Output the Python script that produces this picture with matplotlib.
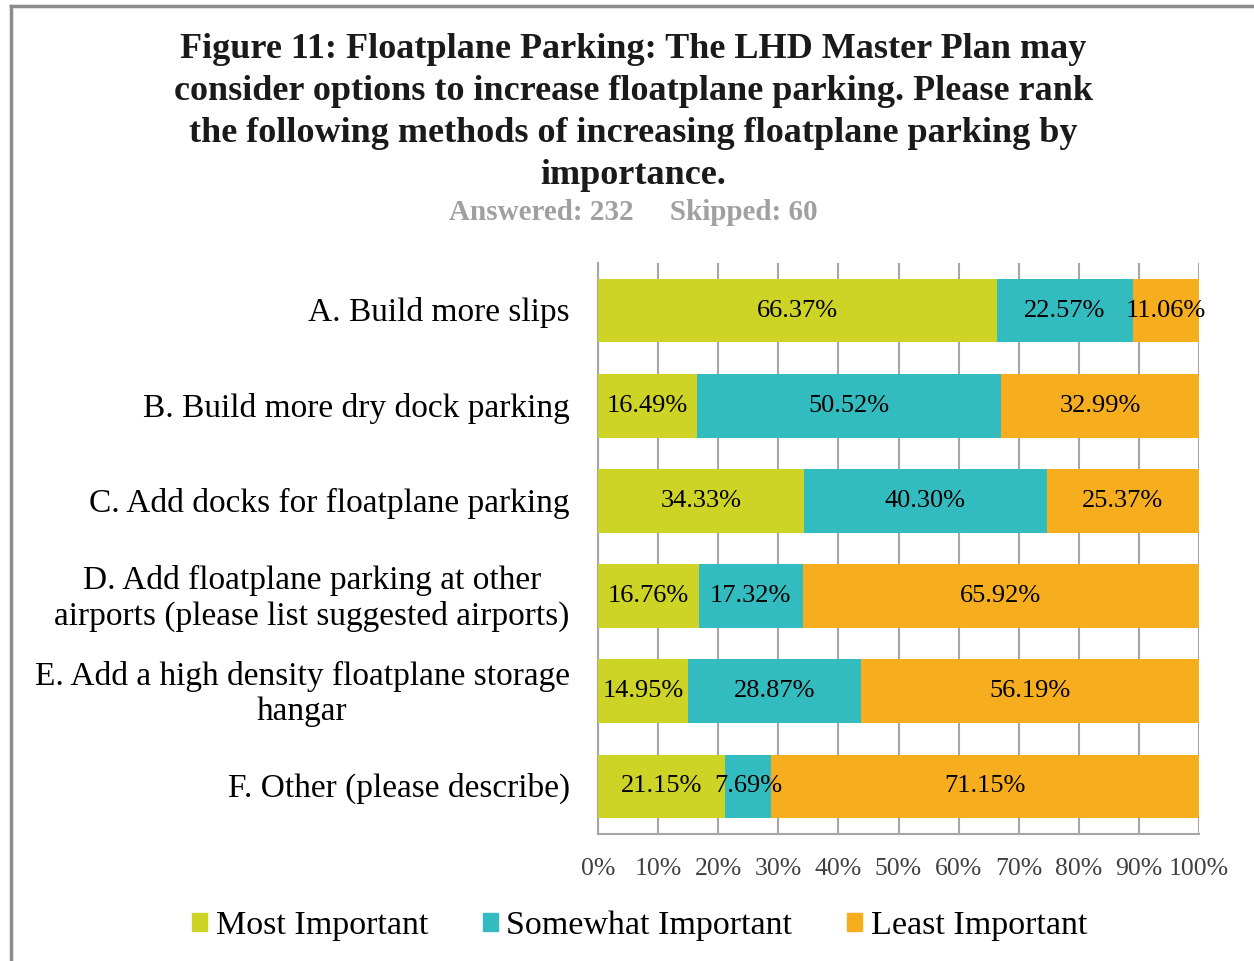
import matplotlib.pyplot as plt
from matplotlib.lines import Line2D
import numpy as np

plt.rcParams['font.family'] = ['Liberation Serif', 'DejaVu Serif']

categories = [
    "A. Build more slips",
    "B. Build more dry dock parking",
    "C. Add docks for floatplane parking",
    "D. Add floatplane parking at other\nairports (please list suggested airports)",
    "E. Add a high density floatplane storage\nhangar",
    "F. Other (please describe)",
]
most = [66.37, 16.49, 34.33, 16.76, 14.95, 21.15]
somewhat = [22.57, 50.52, 40.30, 17.32, 28.87, 7.69]
least = [11.06, 32.99, 25.37, 65.92, 56.19, 71.15]
series_names = ["Most Important", "Somewhat Important", "Least Important"]
colors = ["#CDD426", "#33BCBF", "#F6AE1F"]
xticks = np.arange(0, 101, 10)

fig = plt.figure(figsize=(12.54, 9.61), dpi=100)
ax = fig.add_axes([0.4769, 0.1322, 0.4793, 0.5941])

y = np.arange(len(categories))
left = np.zeros(len(categories))
for vals, name, col in zip([most, somewhat, least], series_names, colors):
    bars = ax.barh(y, vals, left=left, height=0.67, color=col, label=name, zorder=3)
    ax.bar_label(bars, labels=["%.2f%%" % v for v in vals], label_type='center',
                 fontsize=19, color='black', zorder=4)
    left += np.array(vals)

ax.set_xlim(0, 100)
ax.set_ylim(len(categories) - 0.5, -0.5)
ax.set_yticks(y)
ax.set_yticklabels([])
ax.tick_params(axis='y', length=0)
for yi, cat in zip(y, categories):
    ax.text(-0.047, yi + 0.025, cat, transform=ax.get_yaxis_transform(), ha='right',
            va='center', multialignment='center', fontsize=24, color='black',
            linespacing=1.2)
ax.set_xticks(xticks)
ax.set_xticklabels(["%d%%" % t for t in xticks], fontsize=18.5, color='#404040')
ax.tick_params(axis='x', length=0, pad=17)
ax.grid(axis='x', color='#A6A6A6', linewidth=1.5, zorder=0)
for side in ['top', 'right']:
    ax.spines[side].set_visible(False)
for side in ['left', 'bottom']:
    ax.spines[side].set_color('#A6A6A6')
    ax.spines[side].set_linewidth(1.5)

fig.text(0.505, 0.966,
         "Figure 11: Floatplane Parking: The LHD Master Plan may\n"
         "consider options to increase floatplane parking. Please rank\n"
         "the following methods of increasing floatplane parking by\n"
         "importance.",
         ha='center', va='top', fontsize=26, fontweight='bold',
         color='#1a1a1a', linespacing=1.36)
fig.text(0.505, 0.779, "Answered: 232     Skipped: 60", ha='center', va='center',
         fontsize=21, fontweight='bold', color='#A0A0A0')

handles = [plt.Rectangle((0, 0), 1, 1, color=c) for c in colors]
fig.legend(handles, series_names, loc='center', bbox_to_anchor=(0.51, 0.0365),
           ncol=3, frameon=False, fontsize=24.5, handlelength=0.45, handleheight=0.45,
           handletextpad=0.25, columnspacing=1.6)

# outer border (left and top edges)
fig.add_artist(Line2D([0.0088, 0.0088], [0, 0.9938], color='#8C8C8C', lw=2.5,
                      transform=fig.transFigure))
fig.add_artist(Line2D([0.0088, 1], [0.9938, 0.9938], color='#8C8C8C', lw=2.5,
                      transform=fig.transFigure))

fig.savefig("out.png", dpi=100)
